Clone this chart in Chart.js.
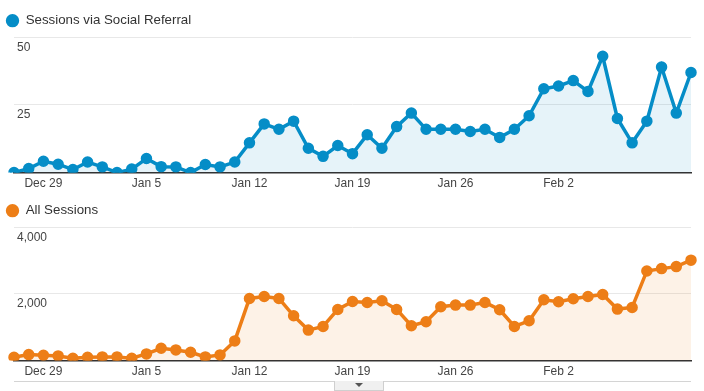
<!DOCTYPE html>
<html>
<head>
<meta charset="utf-8">
<script src="https://cdn.jsdelivr.net/npm/chart.js@4.4.0/dist/chart.umd.min.js"></script>
<style>
  body { margin: 0; background: #fff; width: 704px; height: 391px; overflow: hidden; position: relative; }
  .box { position: absolute; left: 0; width: 704px; }
  #top { top: 0; height: 195px; }
  #bottom { top: 195px; height: 188px; }
  #rule { position: absolute; left: 14px; width: 677px; top: 381px; height: 1px; background: #d4d4d4; }
  #handle { position: absolute; left: 334px; top: 381px; width: 48px; height: 9px; background: #f0f0f0; border: 1px solid #cfcfcf; border-top: none; }
  #handle:after { content: ''; position: absolute; left: 20px; top: 2px; border-left: 4px solid transparent; border-right: 4px solid transparent; border-top: 4px solid #555; }
</style>
</head>
<body>
<div class="box" id="top"><canvas id="social"></canvas></div>
<div class="box" id="bottom"><canvas id="all"></canvas></div>
<div id="rule"></div>
<div id="handle"></div>
<script>
const days = [
  'Dec 27', 'Dec 28', 'Dec 29', 'Dec 30', 'Dec 31', 'Jan 1', 'Jan 2', 'Jan 3', 'Jan 4',
  'Jan 5', 'Jan 6', 'Jan 7', 'Jan 8', 'Jan 9', 'Jan 10', 'Jan 11', 'Jan 12', 'Jan 13',
  'Jan 14', 'Jan 15', 'Jan 16', 'Jan 17', 'Jan 18', 'Jan 19', 'Jan 20', 'Jan 21', 'Jan 22',
  'Jan 23', 'Jan 24', 'Jan 25', 'Jan 26', 'Jan 27', 'Jan 28', 'Jan 29', 'Jan 30', 'Jan 31',
  'Feb 1', 'Feb 2', 'Feb 3', 'Feb 4', 'Feb 5', 'Feb 6', 'Feb 7', 'Feb 8', 'Feb 9', 'Feb 10', 'Feb 11'
];
const tickDays = ['Dec 29', 'Jan 5', 'Jan 12', 'Jan 19', 'Jan 26', 'Feb 2'];

const socialSessions = [
  0, 1.5, 4.2, 3.1, 1.1, 3.9, 2.1, 0, 1.3, 5.2, 2.2, 2.1, 0, 3, 2.1, 3.9,
  11, 18, 16, 19, 9, 6, 10, 7, 14, 9, 17, 22, 16, 16, 16, 15.2, 16, 13,
  16, 21, 31, 32, 34, 30, 43, 20, 11, 19, 39, 22, 37
];
const allSessions = [
  100, 180, 160, 140, 70, 100, 110, 110, 70, 200, 370, 320, 250, 110, 170, 590,
  1865, 1925, 1865, 1345, 915, 1025, 1535, 1775, 1745, 1795, 1535, 1045, 1165, 1615, 1665, 1665,
  1745, 1525, 1025, 1195, 1825, 1765, 1855, 1925, 1985, 1545, 1595, 2690, 2760, 2820, 3015
];

const socialTicks = [0, 25, 50];
const allTicks = [0, 2000, 4000];

function makeChart(id, label, values, yTicks, color, fill, topPad) {
  return new Chart(id, {
    type: 'line',
    data: {
      labels: days,
      datasets: [{
        label: label,
        data: values,
        borderColor: color,
        backgroundColor: fill,
        pointBackgroundColor: color,
        pointBorderColor: color,
        borderWidth: 3.5,
        pointRadius: 4,
        pointHoverRadius: 4,
        fill: true,
        tension: 0
      }]
    },
    options: {
      responsive: true,
      maintainAspectRatio: false,
      animation: false,
      layout: { padding: { left: 0, right: 13, top: topPad, bottom: 0 } },
      plugins: {
        tooltip: { enabled: false },
        legend: {
          position: 'top',
          align: 'start',
          labels: {
            usePointStyle: true,
            pointStyle: 'circle',
            boxWidth: 13,
            boxHeight: 7,
            padding: 6,
            color: '#333',
            font: { family: 'Arial, "Liberation Sans"', size: 13.3 }
          }
        }
      },
      scales: {
        x: {
          offset: false,
          grid: { display: false, drawTicks: false },
          border: { display: true, color: '#333', width: 1.5 },
          ticks: {
            autoSkip: false,
            maxRotation: 0,
            minRotation: 0,
            padding: 4,
            color: '#444',
            font: { family: 'Arial, "Liberation Sans"', size: 12 },
            callback: function (v, i) {
              const d = days[i];
              return tickDays.includes(d) ? d : '';
            }
          }
        },
        y: {
          min: yTicks[0],
          max: yTicks[yTicks.length - 1],
          afterFit: function (scale) { scale.width = 14; },
          afterBuildTicks: function (scale) {
            scale.ticks = yTicks.map(v => ({ value: v }));
          },
          grid: { color: '#e8e8e8', drawTicks: false },
          border: { display: false },
          ticks: {
            mirror: true,
            padding: 3,
            labelOffset: 10,
            color: '#444',
            font: { family: 'Arial, "Liberation Sans"', size: 12 },
            callback: function (v) {
              return v === 0 ? '' : v.toLocaleString('en-US');
            }
          }
        }
      }
    }
  });
}

makeChart('social', 'Sessions via Social Referral', socialSessions, socialTicks,
  '#058dc7', 'rgba(5, 141, 199, 0.10)', 8);
makeChart('all', 'All Sessions', allSessions, allTicks,
  '#ed7e17', 'rgba(237, 126, 23, 0.10)', 3);
</script>
</body>
</html>
